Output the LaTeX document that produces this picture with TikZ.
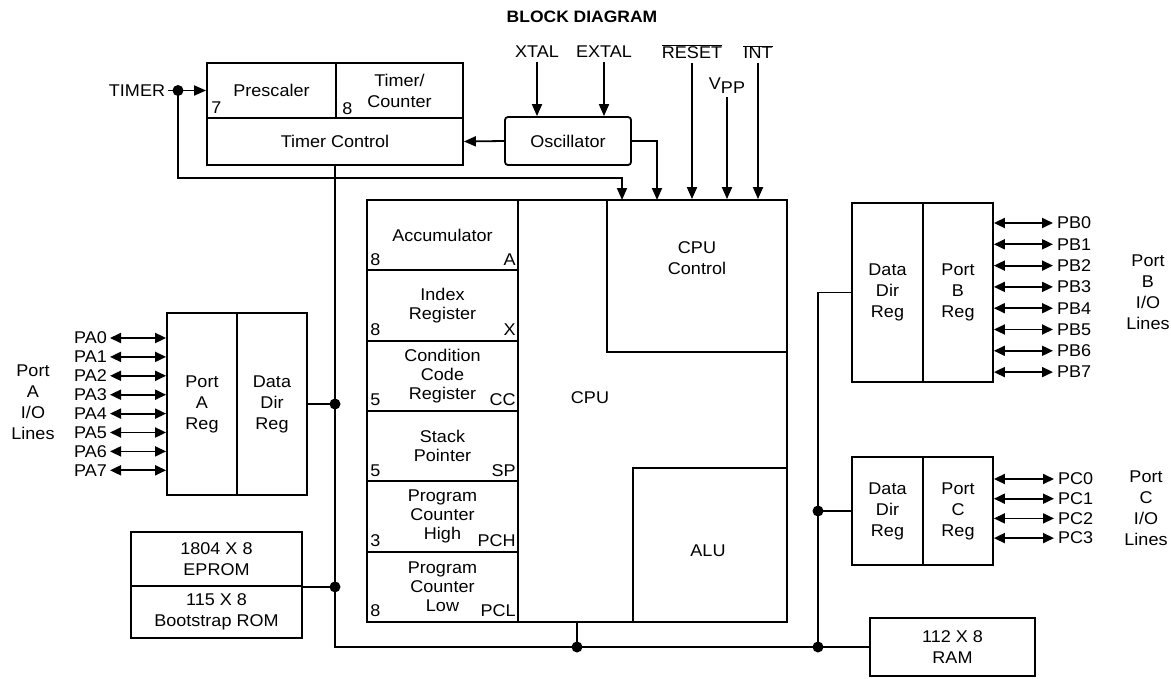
\documentclass[tikz,border=0pt]{standalone}
\usepackage{fontspec}
\setmainfont{Liberation Sans}[FakeStretch=1.06]
\usetikzlibrary{arrows.meta,calc}
\newcommand\labfont{\fontsize{17}{21}\selectfont}
\newcommand\regfont{\fontsize{17}{19}\selectfont}
\newcommand\ovl[1]{\ensuremath{\overline{\hbox{#1}}}}
\begin{document}
\begin{tikzpicture}[x=1pt,y=-1pt,
  every node/.style={inner sep=0pt, font=\labfont, align=center},
  box/.style={draw, line width=1.8pt},
  wire/.style={line width=1.8pt},
  arr/.style={wire, -{Triangle[length=12pt,width=10pt]}},
  darr/.style={wire, {Triangle[length=11pt,width=10pt]}-{Triangle[length=11pt,width=10pt]}},
  jdot/.style={circle, fill, minimum size=11pt},
  reg/.style={box, minimum width=151pt, minimum height=70.33pt, font=\regfont},
]
\useasboundingbox (0,0) rectangle (1171,678);

% title
\node[font=\fontsize{16.5}{19}\selectfont\bfseries] (title) at (582,17) {BLOCK DIAGRAM};

% timer block
\node[box, minimum width=129pt, minimum height=55pt] (presc) at (271.5,90.5) {Prescaler};
\node[box, minimum width=127pt, minimum height=55pt] (tcnt) at (399.5,90.5) {Timer/\\Counter};
\node[box, minimum width=256pt, minimum height=47pt] (tctl) at (335,141.5) {Timer Control};
\node[anchor=base west] (n7) at ($(presc.south west)+(5,-5)$) {7};
\node[anchor=base west] (n8) at ($(tcnt.south west)+(7,-4)$) {8};

% oscillator
\node[box, rounded corners=3pt, minimum width=126pt, minimum height=48pt] (osc) at (568,141) {Oscillator};

% inputs
\node (timer) at (137,90.5) {TIMER};
\node[jdot] (tdot) at (178,90.5) {};
\node (xtal) at (537,52) {XTAL};
\node (extal) at (604,52) {EXTAL};
\node (reset) at (692,52) {\ovl{RESET}};
\node (int) at (758,52) {\ovl{INT}};
\node (vpp) at (727,86) {V\raisebox{-4pt}{PP}};

% CPU
\node[box, minimum width=420pt, minimum height=422pt] (cpu) at (577,411) {};
\node[box, minimum width=180pt, minimum height=152pt] (cpuctl) at (697,276) {};
\node (cpuctltxt) at (697,258) {CPU\\Control};
\node[box, minimum width=154pt, minimum height=154pt] (alu) at (710,545) {};
\node (alutxt) at (708,551) {ALU};
\node (cputxt) at (590,398) {CPU};

% registers
\node[reg] (acc) at (442.5,235.2) {Accumulator};
\node[reg] (ix) at (442.5,305.5) {Index\\Register};
\node[reg] (cc) at (442.5,375.8) {Condition\\Code\\Register};
\node[reg] (sp) at (442.5,446.2) {Stack\\Pointer};
\node[reg] (pch) at (442.5,516.5) {Program\\Counter\\High};
\node[reg] (pcl) at (442.5,586.8) {Program\\Counter\\Low};
\foreach \r/\l/\rr in {acc/8/A, ix/8/X, cc/5/CC, sp/5/SP, pch/3/PCH, pcl/8/PCL} {
  \node[anchor=base west] (\r L) at ($(\r.south west)+(4,-6)$) {\l};
  \node[anchor=base east] (\r R) at ($(\r.south east)+(-3,-6)$) {\rr};
}

% port A
\node[box, minimum width=70pt, minimum height=182pt] (pA) at (202,404) {Port\\A\\Reg};
\node[box, minimum width=70pt, minimum height=182pt] (ddrA) at (272,404) {Data\\Dir\\Reg};
\foreach \i in {0,...,7} {
  \node[anchor=east] (pa\i) at (107,{338+18.9*\i}) {PA\i};
  \draw[darr, shorten <=3pt] (pa\i.east) -- (pa\i.east -| pA.west);
}
\node (portAlbl) at (33,402) {Port\\A\\I/O\\Lines};

% ROM
\node[box, minimum width=171pt, minimum height=54pt] (eprom) at (216.5,559) {1804 X 8\\EPROM};
\node[box, minimum width=171pt, minimum height=52pt] (brom) at (216.5,612) {115 X 8\\Bootstrap ROM};

% RAM
\node[box, minimum width=165pt, minimum height=58pt] (ram) at (952.5,647) {112 X 8\\RAM};

% port B
\node[box, minimum width=71pt, minimum height=179pt] (ddrB) at (887.5,292.5) {Data\\Dir\\Reg};
\node[box, minimum width=70pt, minimum height=179pt] (pB) at (958,292.5) {Port\\B\\Reg};
\foreach \i in {0,...,7} {
  \node[anchor=west] (pb\i) at (1057,{223+21.3*\i}) {PB\i};
  \draw[darr, shorten >=4pt] (pb\i.west -| pB.east) -- (pb\i.west);
}
\node (portBlbl) at (1148,292) {Port\\B\\I/O\\Lines};

% port C
\node[box, minimum width=71pt, minimum height=108pt] (ddrC) at (887.5,511) {Data\\Dir\\Reg};
\node[box, minimum width=70pt, minimum height=108pt] (pC) at (958,511) {Port\\C\\Reg};
\foreach \i in {0,...,3} {
  \node[anchor=west] (pc\i) at (1058,{479+19.7*\i}) {PC\i};
  \draw[darr, shorten >=4pt] (pc\i.west -| pC.east) -- (pc\i.west);
}
\node (portClbl) at (1146,508) {Port\\C\\I/O\\Lines};

% connectors at top
\coordinate (tbend) at (178,178);
\coordinate (in0) at (622,200);
\coordinate (in1) at (657,200);
\draw[arr, shorten <=3pt] (timer.east) -- (presc.west);
\draw[arr] (tdot.center) -- (tbend) -| (in0);
\draw[arr, shorten <=4pt] (xtal.south) -- (xtal.south |- osc.north);
\draw[arr, shorten <=4pt] (extal.south) -- (extal.south |- osc.north);
\draw[arr, shorten <=4pt] (reset.south) -- (reset.south |- cpu.north);
\draw[arr, shorten <=4pt] (int.south) -- (int.south |- cpu.north);
\draw[arr, shorten <=3pt] (vpp.south) -- (vpp.south |- cpu.north);
\draw[arr] (osc.west) -- (tctl.east);
\draw[arr] (osc.east) -| (in1);

% bus
\draw[wire] (tctl.south) |- (ram.west);
\node[jdot] (dA) at (tctl.south |- ddrA.east) {};
\node[jdot] (dR) at (tctl.south |- eprom.south east) {};
\draw[wire] (ddrA.east) -- (dA.center);
\draw[wire] (eprom.south east) -- (dR.center);
\node[jdot] (dC) at (cpu.south |- ram.west) {};
\draw[wire] (cpu.south) -- (dC.center);
\coordinate (rb) at (818,0);
\node[jdot] (dRam) at (rb |- ram.west) {};
\node[jdot] (dPC) at (rb |- ddrC.west) {};
\draw[wire] (dRam.center) |- (ddrB.west);
\draw[wire] (dPC.center) -- (ddrC.west);
\end{tikzpicture}
\end{document}
